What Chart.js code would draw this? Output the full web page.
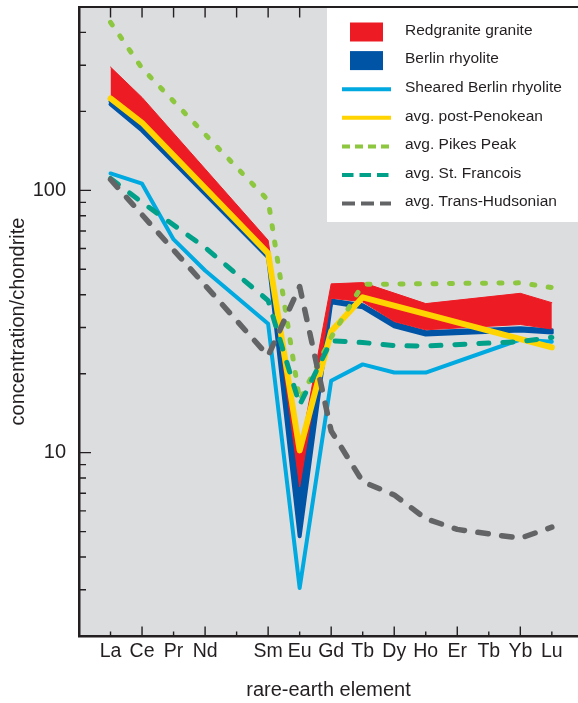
<!DOCTYPE html>
<html>
<head>
<meta charset="utf-8">
<title>Rare-earth element patterns</title>
<script src="https://cdn.jsdelivr.net/npm/chart.js@4.4.1/dist/chart.umd.min.js"></script>
<style>
  html, body { margin: 0; padding: 0; background: #ffffff; }
  #wrap { position: relative; width: 578px; height: 703px; }
  canvas { display: block; }
</style>
</head>
<body>
<div id="wrap"><canvas id="ree" width="578" height="703"></canvas></div>
<script>
// Elements plotted, positioned by atomic number (Pm is left out of the data)
const elements      = ['La', 'Ce', 'Pr', 'Nd', 'Sm', 'Eu', 'Gd', 'Tb', 'Dy', 'Ho', 'Er', 'Tm', 'Yb', 'Lu'];
const atomicNumbers = [57, 58, 59, 60, 62, 63, 64, 65, 66, 67, 68, 69, 70, 71];

// Axis ticks and their labels
const tickPositions = [57, 58, 59, 60, 61, 62, 63, 64, 65, 66, 67, 68, 69, 70, 71];
const tickLabels    = ['La', 'Ce', 'Pr', 'Nd', '', 'Sm', 'Eu', 'Gd', 'Tb', 'Dy', 'Ho', 'Er', 'Tb', 'Yb', 'Lu'];
const yLabelTicks   = [10, 100];
const yMinorTicks   = [3, 4, 5, 6, 7, 8, 9, 20, 30, 40, 50, 60, 70, 80, 90, 200, 300, 400];

// Chondrite-normalised concentrations           La    Ce    Pr    Nd    Sm    Eu    Gd    Tb    Dy    Ho    Er    Tm    Yb    Lu
const redgraniteHigh   = [295,  226,  null, null, 64.5, 10.0, 44.0, 44.5, null, 37.0, null, null, 40.5, 37.3];
const redgraniteLow    = [220,  176,  null, null, 57.5, 7.4,  38.8, 37.6, 31.6, 29.4, null, null, 30.8, 29.6];
const berlinHigh       = [218,  173,  null, null, 57.0, 7.8,  38.0, 36.5, 31.0, 28.8, null, null, 29.8, 29.3];
const berlinLow        = [213,  169,  null, null, 55.5, 4.8,  37.4, 35.8, 30.3, 28.2, null, null, 29.2, 28.7];
const shearedBerlin    = [116,  106,  65.0, 49.5, 31.0, 3.05, 18.8, 21.7, 20.2, 20.2, null, null, 27.0, 26.5];
const postPenokean     = [224,  181,  null, null, 57.5, 10.2, 29.0, 39.1, null, null, null, null, null, 25.2];
const pikesPeak        = [437,  292,  null, null, 91.6, 15.8, 27.5, 43.8, null, null, null, null, 44.4, 42.6];
const stFrancois       = [111,  90.0, null, 60.5, 38.0, 15.2, 26.7, 26.3, 25.6, 25.5, null, null, 26.5, 27.5];
const transHudsonian   = [110,  null, null, null, 23.4, 43.0, 12.1, 7.75, 6.9,  5.6,  5.1,  4.9,  4.72, 5.2];

const INK  = '#231f20';
const FONT = "'Liberation Sans', Arial, Helvetica, sans-serif";
const C = {
  red: '#ed1c24', blue: '#0054a6', cyan: '#00a9e0', yellow: '#ffd400',
  green: '#8dc63f', teal: '#00a089', gray: '#636466', panel: '#dcdddf'
};

const toPoints = values => atomicNumbers
  .map((z, i) => ({ x: z, y: values[i] }))
  .filter(p => p.y !== null);

function series(label, values, color, width, extra) {
  return Object.assign({
    label,
    data: toPoints(values),
    borderColor: color,
    backgroundColor: color,
    borderWidth: width,
    borderCapStyle: 'round',
    borderJoinStyle: 'round',
    pointRadius: 0,
    pointHoverRadius: 0,
    tension: 0,
    fill: false,
    spanGaps: true
  }, extra || {});
}

const datasets = [
  series('avg. Trans-Hudsonian', transHudsonian, C.gray, 5.5, { borderDash: [10.5, 13.5], order: 0 }),
  series('avg. St. Francois', stFrancois, C.teal, 5, { borderDash: [10, 14], order: 1 }),
  series('avg. Pikes Peak', pikesPeak, C.green, 5, { borderDash: [3, 13.5], order: 2 }),
  series('avg. post-Penokean', postPenokean, C.yellow, 6, { order: 3 }),
  series('Sheared Berlin rhyolite', shearedBerlin, C.cyan, 4, { order: 4 }),
  series('Redgranite granite', redgraniteHigh, C.red, 1, { fill: '+1', order: 5 }),
  series('Redgranite granite (low)', redgraniteLow, C.red, 1, { order: 6 }),
  series('Berlin rhyolite', berlinHigh, C.blue, 4, { fill: '+1', order: 7 }),
  series('Berlin rhyolite (low)', berlinLow, C.blue, 4, { order: 8 })
];

// Legend entries: kind 'box' for ranges, 'line' for single patterns
const legendEntries = [
  { text: 'Redgranite granite', kind: 'box', color: C.red },
  { text: 'Berlin rhyolite', kind: 'box', color: C.blue },
  { text: 'Sheared Berlin rhyolite', kind: 'line', color: C.cyan, dash: [] },
  { text: 'avg. post-Penokean', kind: 'line', color: C.yellow, dash: [] },
  { text: 'avg. Pikes Peak', kind: 'line', color: C.green, dash: [8, 5] },
  { text: 'avg. St. Francois', kind: 'line', color: C.teal, dash: [11.5, 6] },
  { text: 'avg. Trans-Hudsonian', kind: 'line', color: C.gray, dash: [13, 6] }
];

const panelBackground = {
  id: 'panelBackground',
  beforeDraw(chart) {
    const { ctx, chartArea: a } = chart;
    ctx.save();
    ctx.fillStyle = C.panel;
    ctx.fillRect(a.left, a.top, a.right - a.left, a.bottom - a.top);
    ctx.restore();
  }
};

// Inward-pointing tick marks on the left, bottom and top edges
const inwardTicks = {
  id: 'inwardTicks',
  beforeDatasetsDraw(chart) {
    const { ctx, chartArea: a, scales: { x, y } } = chart;
    ctx.save();
    ctx.strokeStyle = INK;
    ctx.lineWidth = 1.4;
    ctx.beginPath();
    yLabelTicks.forEach(v => {
      const py = y.getPixelForValue(v);
      ctx.moveTo(a.left, py); ctx.lineTo(a.left + 12, py);
    });
    yMinorTicks.forEach(v => {
      const py = y.getPixelForValue(v);
      ctx.moveTo(a.left, py); ctx.lineTo(a.left + 7, py);
    });
    tickPositions.forEach(z => {
      const px = x.getPixelForValue(z);
      const len = z % 2 === 0 ? 9.5 : 4.5;
      ctx.moveTo(px, a.bottom); ctx.lineTo(px, a.bottom - len);
      ctx.moveTo(px, a.top); ctx.lineTo(px, a.top + 10.5);
    });
    ctx.stroke();
    ctx.restore();
  }
};

const boxedLegend = {
  id: 'boxedLegend',
  afterDatasetsDraw(chart) {
    const { ctx, chartArea: a } = chart;
    ctx.save();
    ctx.fillStyle = '#ffffff';
    ctx.fillRect(327, a.top, a.right - 327, 222 - a.top);

    legendEntries.forEach((e, i) => {
      const cy = 32 + i * 28.6;
      if (e.kind === 'box') {
        ctx.fillStyle = e.color;
        ctx.fillRect(350, cy - 9.5, 33, 19);
      } else {
        ctx.strokeStyle = e.color;
        ctx.lineWidth = 4;
        ctx.lineCap = 'butt';
        ctx.setLineDash(e.dash);
        ctx.beginPath();
        ctx.moveTo(342, cy); ctx.lineTo(391, cy);
        ctx.stroke();
        ctx.setLineDash([]);
      }
      ctx.fillStyle = INK;
      ctx.font = '15.5px ' + FONT;
      ctx.textAlign = 'left';
      ctx.textBaseline = 'middle';
      ctx.fillText(e.text, 405, cy - 1.5);
    });

    // top frame line
    ctx.strokeStyle = INK;
    ctx.lineWidth = 2;
    ctx.beginPath();
    ctx.moveTo(a.left, a.top); ctx.lineTo(a.right, a.top);
    ctx.stroke();
    ctx.restore();
  }
};

const labelFor = v => {
  const i = tickPositions.indexOf(Math.round(v));
  return i >= 0 ? tickLabels[i] : '';
};

new Chart(document.getElementById('ree'), {
  type: 'line',
  data: { datasets },
  plugins: [panelBackground, inwardTicks, boxedLegend],
  options: {
    responsive: false,
    devicePixelRatio: 1,
    animation: false,
    events: [],
    layout: { padding: { top: 7, left: 0, right: 0, bottom: 0 } },
    plugins: { legend: { display: false }, tooltip: { enabled: false } },
    scales: {
      x: {
        type: 'linear',
        min: 56,
        max: 71.83,
        afterFit: s => { s.height = 67; s.paddingLeft = 0; s.paddingRight = 0; },
        afterBuildTicks: s => { s.ticks = tickPositions.map(v => ({ value: v })); },
        grid: { display: false, drawTicks: false },
        border: { display: true, color: INK, width: 2.5 },
        ticks: {
          autoSkip: false, maxRotation: 0, minRotation: 0, padding: 4,
          color: INK, font: { family: FONT, size: 19.5 },
          callback: v => labelFor(v)
        },
        title: {
          display: true, text: 'rare-earth element', color: INK,
          font: { family: FONT, size: 20 }, padding: { top: 0, bottom: 1 }
        }
      },
      y: {
        type: 'logarithmic',
        min: 2,
        max: 500,
        afterFit: s => { s.width = 79; s.paddingTop = 0; s.paddingBottom = 0; },
        afterBuildTicks: s => { s.ticks = yLabelTicks.map(v => ({ value: v })); },
        grid: { display: false, drawTicks: false },
        border: { display: true, color: INK, width: 2.5 },
        ticks: {
          padding: 13, color: INK, font: { family: FONT, size: 20 },
          callback: v => String(v)
        },
        title: {
          display: true, text: 'concentration/chondrite', color: INK,
          font: { family: FONT, size: 20 }, padding: { top: 6.6, bottom: 0 }
        }
      }
    }
  }
});
</script>
</body>
</html>
